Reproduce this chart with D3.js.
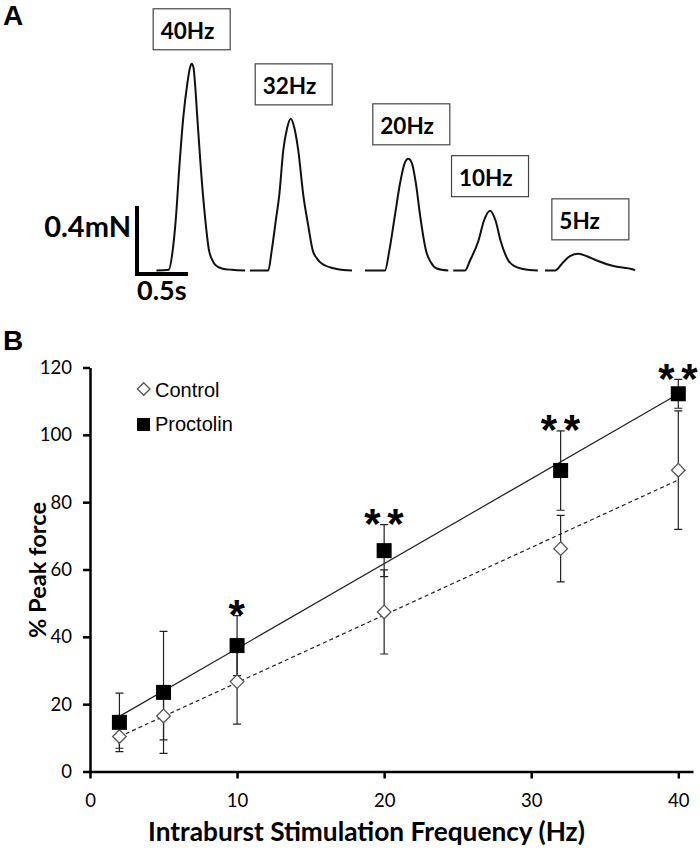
<!DOCTYPE html>
<html><head><meta charset="utf-8">
<script src="https://cdn.jsdelivr.net/npm/d3@7"></script>
<style>body{margin:0;background:#fff}svg{display:block}</style>
</head><body>
<script>
// ---------- DATA ----------
// Panel B
const freqs = [2, 5, 10, 20, 32, 40];
const controlMean = [10.4, 16.5, 26.7, 47.4, 66.2, 89.5];
const controlErr = [3.5, 7.1, 12.6, 12.5, 9.9, 17.6];
const proctolinMean = [14.6, 23.5, 37.4, 65.6, 89.4, 112.2];
const proctolinErr = [8.7, 18.1, 8.9, 7.7, 11.8, 4.3];
const significance = ["", "", "*", "**", "**", "**"];
const xTicks = [0, 10, 20, 30, 40];
const yTicks = [0, 20, 40, 60, 80, 100, 120];
const seriesNames = ["Control", "Proctolin"];
const xTitle = "Intraburst Stimulation Frequency (Hz)";
const yTitle = "% Peak force";

// Panel A: force traces, [time (s), force (mN)]
const traceLabels = ["40Hz", "32Hz", "20Hz", "10Hz", "5Hz"];
const trace40Hz = [[0.19,0],[0.31,0.004],[0.35,0.118],[0.382,0.314],[0.415,0.608],[0.454,0.902],[0.493,1.098],[0.52,1.194],[0.536,1.216],[0.554,1.194],[0.569,1.098],[0.591,0.902],[0.625,0.608],[0.667,0.314],[0.706,0.118],[0.735,0.065],[0.765,0.035],[0.833,0.012],[0.93,0.004],[1.06,0]];
const trace32Hz = [[1.108,0],[1.287,0],[1.321,0.118],[1.36,0.29],[1.395,0.445],[1.434,0.706],[1.471,0.835],[1.507,0.892],[1.544,0.835],[1.581,0.706],[1.63,0.445],[1.68,0.26],[1.723,0.118],[1.765,0.07],[1.811,0.041],[1.958,0.009],[2.108,0]];
const trace20Hz = [[2.235,0],[2.431,0],[2.474,0.118],[2.529,0.326],[2.578,0.51],[2.623,0.629],[2.66,0.657],[2.696,0.629],[2.735,0.51],[2.775,0.326],[2.833,0.118],[2.882,0.047],[2.938,0.012],[3.052,0]];
const trace10Hz = [[3.101,0],[3.216,0],[3.265,0.059],[3.346,0.172],[3.402,0.294],[3.461,0.352],[3.515,0.294],[3.566,0.172],[3.64,0.059],[3.706,0.024],[3.787,0.009],[3.93,0]];
const trace5Hz = [[4.0,0],[4.098,0],[4.179,0.049],[4.245,0.085],[4.327,0.098],[4.412,0.084],[4.507,0.059],[4.67,0.026],[4.866,0.006],[4.882,0]];
const scaleBarTime = 0.5;   // s
const scaleBarForce = 0.4;  // mN

// ---------- LAYOUT ----------
const W = 700, H = 854;
const svg = d3.select("body").append("svg").attr("width", W).attr("height", H)
  .style("background", "#fff");
const tickFont = "Lato, 'Open Sans', sans-serif";
const arial = "'Liberation Sans', Arial, sans-serif";

// Panel letters
svg.append("text").attr("x", 3).attr("y", 25).text("A")
  .style("font-family", arial).style("font-weight", "bold").style("font-size", "28px");
svg.append("text").attr("x", 3).attr("y", 350).text("B")
  .style("font-family", arial).style("font-weight", "bold").style("font-size", "28px");

// ---------- Panel A ----------
const tS = d3.scaleLinear().domain([0, 1]).range([137, 239]);
const fS = d3.scaleLinear().domain([0, 1]).range([270.5, 100.5]);
const traces = [trace40Hz, trace32Hz, trace20Hz, trace10Hz, trace5Hz];
const line = d3.line().x(d => tS(d[0])).y(d => fS(d[1])).curve(d3.curveMonotoneX);
const boxDx = [0, 3, 3, 0, 12];
const gA = svg.append("g");
traces.forEach((tr, i) => {
  gA.append("path").attr("d", line(tr)).attr("fill", "none")
    .attr("stroke", "#111").attr("stroke-width", 2);
  const peak = tr.reduce((a, b) => b[1] > a[1] ? b : a);
  const cx = tS(peak[0]) + boxDx[i], by = fS(peak[1]) - 14;
  gA.append("rect").attr("x", cx - 38.5).attr("y", by - 41).attr("width", 77).attr("height", 41)
    .attr("fill", "#fff").attr("stroke", "#444").attr("stroke-width", 1.2);
  gA.append("text").attr("x", cx - 31).attr("y", by - 11).text(traceLabels[i])
    .style("font-family", tickFont).style("font-weight", "bold").style("font-size", "22.5px");
});
// scale bars
const sbBase = -0.02;
gA.append("path")
  .attr("d", `M${tS(0)},${fS(sbBase + scaleBarForce)}V${fS(sbBase)}H${tS(scaleBarTime)}`)
  .attr("fill", "none").attr("stroke", "#000").attr("stroke-width", 4);
gA.append("text").attr("x", tS(0) - 6).attr("y", 237).attr("text-anchor", "end").text("0.4mN")
  .style("font-family", tickFont).style("font-weight", "bold").style("font-size", "29px");
gA.append("text").attr("x", tS(0)).attr("y", 300).text("0.5s")
  .style("font-family", tickFont).style("font-weight", "bold").style("font-size", "27px");

// ---------- Panel B ----------
const x = d3.scaleLinear().domain([0, 41]).range([90, 693]);
const y = d3.scaleLinear().domain([0, 120]).range([771.5, 367.5]);
const gB = svg.append("g");

const yAxis = gB.append("g").attr("transform", `translate(${x(0)},0)`)
  .call(d3.axisLeft(y).tickValues(yTicks).tickSize(7).tickSizeOuter(0).tickPadding(11));
const xAxis = gB.append("g").attr("transform", `translate(0,${y(0)})`)
  .call(d3.axisBottom(x).tickValues(xTicks).tickSize(7).tickSizeOuter(0).tickPadding(15));
[yAxis, xAxis].forEach(a => {
  a.select(".domain").attr("stroke", "#000").attr("stroke-width", 2.5);
  a.selectAll(".tick line").attr("stroke", "#000").attr("stroke-width", 2.5);
  a.selectAll(".tick text").style("font-family", tickFont).style("font-size", "18.5px").attr("fill", "#000");
});

// regression lines
function fit(xs, ys) {
  const mx = d3.mean(xs), my = d3.mean(ys);
  const s = d3.sum(xs, (v, i) => (v - mx) * (ys[i] - my)) / d3.sum(xs, v => (v - mx) ** 2);
  return [s, my - s * mx];
}
const xr = d3.extent(freqs);
[[controlMean, "4,3"], [proctolinMean, null]].forEach(([m, dash]) => {
  const [s, b] = fit(freqs, m);
  gB.append("line").attr("x1", x(xr[0])).attr("y1", y(s * xr[0] + b))
    .attr("x2", x(xr[1])).attr("y2", y(s * xr[1] + b))
    .attr("stroke", "#222").attr("stroke-width", 1.2)
    .attr("stroke-dasharray", dash);
});

// error bars
function errBars(mean, err) {
  freqs.forEach((f, i) => {
    const cx = x(f), y1 = y(mean[i] + err[i]), y2 = y(mean[i] - err[i]);
    gB.append("path").attr("d", `M${cx},${y1}V${y2}M${cx - 4},${y1}H${cx + 4}M${cx - 4},${y2}H${cx + 4}`)
      .attr("fill", "none").attr("stroke", "#222").attr("stroke-width", 1.2);
  });
}
errBars(controlMean, controlErr);
errBars(proctolinMean, proctolinErr);

// markers
const diamond = (cx, cy, r) => `M${cx},${cy - r}L${cx + r},${cy}L${cx},${cy + r}L${cx - r},${cy}Z`;
freqs.forEach((f, i) => {
  gB.append("path").attr("d", diamond(x(f), y(controlMean[i]), 6.8))
    .attr("fill", "#fff").attr("stroke", "#555").attr("stroke-width", 1.3);
});
freqs.forEach((f, i) => {
  gB.append("rect").attr("x", x(f) - 7.5).attr("y", y(proctolinMean[i]) - 7.5)
    .attr("width", 15).attr("height", 15).attr("fill", "#000");
});

// significance stars
freqs.forEach((f, i) => {
  const n = significance[i].length;
  const top = y(proctolinMean[i] + proctolinErr[i]) - 13;
  for (let k = 0; k < n; k++) {
    const cx = x(f) + (n === 1 ? 0 : (k === 0 ? -11.5 : 11.5));
    const t = gB.append("text").text("*").attr("x", 0).attr("y", 0)
      .style("font-family", arial).style("font-weight", "bold").style("font-size", "42px");
    const bb = t.node().getBBox();
    t.attr("x", cx - bb.x - bb.width / 2).attr("y", top + 26.5);
  }
});

// legend
gB.append("path").attr("d", diamond(143.7, 389, 6.3))
  .attr("fill", "#fff").attr("stroke", "#555").attr("stroke-width", 1.3);
gB.append("rect").attr("x", 137).attr("y", 418).attr("width", 13).attr("height", 13).attr("fill", "#000");
gB.append("text").attr("x", 155).attr("y", 396.5).text(seriesNames[0])
  .style("font-family", arial).style("font-size", "20px");
gB.append("text").attr("x", 155).attr("y", 431).text(seriesNames[1])
  .style("font-family", arial).style("font-size", "20px");

// axis titles (sized to the reference's text extents)
function fitText(sel, target) {
  sel.style("font-size", "20px");
  const L = sel.node().getComputedTextLength();
  sel.style("font-size", (20 * target / L) + "px");
}
const xt = gB.append("text").attr("x", 366.5).attr("y", 841).attr("text-anchor", "middle").text(xTitle)
  .style("font-family", tickFont).style("font-weight", "bold");
fitText(xt, 437);
const yt = gB.append("text").attr("transform", "translate(46,570) rotate(-90)").attr("text-anchor", "middle").text(yTitle)
  .style("font-family", tickFont).style("font-weight", "bold");
fitText(yt, 136);
</script>
</body></html>
